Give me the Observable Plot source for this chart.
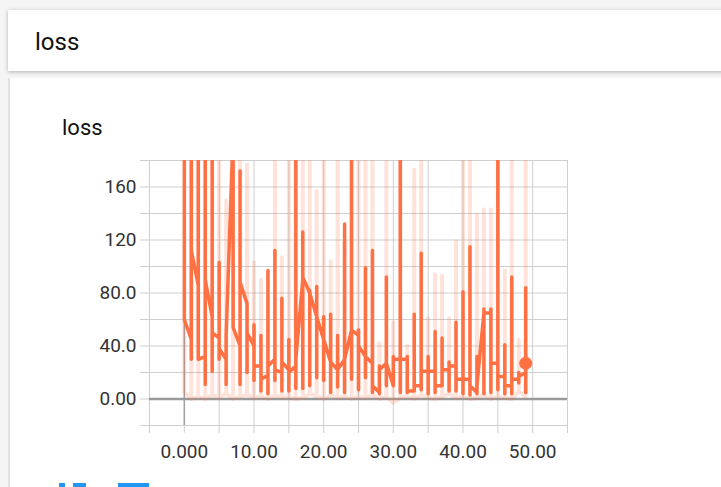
<!DOCTYPE html>
<html>
<head>
<meta charset="utf-8">
<script src="https://cdn.jsdelivr.net/npm/d3@7"></script>
<script src="https://cdn.jsdelivr.net/npm/@observablehq/plot@0.6"></script>
<style>
  html, body { margin: 0; padding: 0; }
  body { width: 721px; height: 487px; overflow: hidden; position: relative; background: #f5f5f5; font-family: Roboto, "Noto Sans", sans-serif; }
  #hdr { position: absolute; left: 8px; top: 10px; width: 740px; height: 61px; background: #fff; box-shadow: 0 1px 4px rgba(0,0,0,0.28); }
  #hdr span { position: absolute; left: 27px; top: 20px; font-size: 24px; line-height: 24px; color: #111; }
  #panel { position: absolute; left: 8px; top: 78px; width: 740px; height: 430px; background: #fff; border-left: 2px solid #e2e2e2; }
  #ctitle { position: absolute; left: 62px; top: 117px; font-size: 22px; line-height: 22px; color: #111; }
  #chart { position: absolute; left: 0; top: 150px; }
  .blue { position: absolute; background: #2196f3; }
</style>
</head>
<body>
<div id="hdr"><span>loss</span></div>
<div id="panel"></div>
<div id="ctitle">loss</div>
<div id="chart"></div>
<div class="blue" style="left:59px;top:483px;width:6px;height:6px;"></div>
<div class="blue" style="left:73px;top:483px;width:13px;height:6px;"></div>
<div class="blue" style="left:118px;top:483px;width:31px;height:6px;"></div>
<script>
// steps (x values)
const steps = [0,1,2,3,4,5,6,7,8,9,10,11,12,13,14,15,16,17,18,19,20,21,22,23,24,25,26,27,28,29,30,31,32,33,34,35,36,37,38,39,40,41,42,43,44,45,46,47,48,49];

// smoothed series (bold line): per step entry, high, low, exit values
const smoothEntry = [60,45,86,32,62,46,30,200,40,72, 40,25,18,30,20,22,25,90,80,62, 45,28,22,30,52,48,32,27,5,27, 10,30,30,6,10,21,21,10,22,25, 15,15,5,65,65,27,17,10,15,20];
const smoothHigh  = [250,250,250,250,250,103,48,250,172,72, 56,48,97,112,76,45,250,126,82,85, 62,64,48,132,250,52,99,112,25,92, 32,250,32,64,110,32,51,46,28,58, 81,115,32,68,68,250,41,92,20,84];
const smoothLow   = [60,30,30,11,21,30,11,54,11,20, 14,6,4,14,6,6,8,8,10,16, 14,5,9,5,15,7,16,5,4,10, 10,5,5,6,7,4,5,10,6,6, 4,3,4,4,5,7,4,4,12,5];
const smoothExit  = [60,112,30,90,50,38,48,54,88,50, 25,15,25,22,28,20,30,92,80,62, 45,28,22,30,52,40,32,10,22,27, 30,30,6,10,21,21,10,22,25,15, 15,10,10,65,27,17,10,15,17,27];

// raw series (faint line): per step high and low values
const rawHigh = [60,250,250,250,250,250,150,250,250,177, 103,90,78,250,107,250,250,250,250,157, 250,104,250,120,250,250,250,250,42,250, 58,250,40,173,250,61,94,93,61,119, 250,250,139,143,143,250,97,250,45,250];
const rawLow  = [5,0,2,0,3,1,4,0,2,3, 1,2,0,3,1,2,0,1,4,2, 0,3,1,2,0,2,1,3,0,2, -3,1,2,0,3,1,0,2,4,1, 2,0,1,3,0,2,1,0,6,2];

// axes ticks and labels
const xGridTicks = [-5,0,5,10,15,20,25,30,35,40,45,50,55];
const xLabelTicks = [0,10,20,30,40,50];
const xTickLabels = ["0.000","10.00","20.00","30.00","40.00","50.00"];
const yGridTicks = [-20,0,20,40,60,80,100,120,140,160,180];
const yLabelTicks = [0,40,80,120,160];
const yTickLabels = ["0.00","40.0","80.0","120","160"];

const smoothPath = steps.flatMap((s, i) => [
  {step: s, value: smoothEntry[i]},
  {step: s, value: smoothHigh[i]},
  {step: s, value: smoothLow[i]},
  {step: s, value: smoothExit[i]}
]);
const rawPath = steps.flatMap((s, i) => [
  {step: s, value: rawLow[i]},
  {step: s, value: rawHigh[i]},
  {step: s, value: rawLow[i]}
]);
const lastPoint = [{step: steps[steps.length - 1], value: smoothExit[smoothExit.length - 1]}];

const grid = "#cfcfcf";
const chart = Plot.plot({
  width: 600,
  height: 310,
  marginLeft: 149,
  marginRight: 33,
  marginTop: 10,
  marginBottom: 35,
  x: {domain: [-5, 55], label: null},
  y: {domain: [-20, 180], label: null},
  style: {fontFamily: "Roboto, 'Noto Sans', sans-serif", fontSize: "19px", background: "transparent", overflow: "visible"},
  marks: [
    Plot.gridX(xGridTicks, {stroke: grid, strokeOpacity: 1, strokeWidth: 1}),
    Plot.gridY(yGridTicks, {stroke: grid, strokeOpacity: 1, strokeWidth: 1}),
    Plot.axisX(xGridTicks, {tickSize: 8, text: null, stroke: grid, strokeOpacity: 1, label: null}),
    Plot.axisX(xLabelTicks, {tickSize: 0, tickPadding: 19, tickFormat: d => xTickLabels[xLabelTicks.indexOf(d)], fill: "#333", label: null}),
    Plot.axisY(yGridTicks, {tickSize: 9, text: null, stroke: grid, strokeOpacity: 1, label: null}),
    Plot.axisY(yLabelTicks, {tickSize: 0, tickPadding: 13, tickFormat: d => yTickLabels[yLabelTicks.indexOf(d)], fill: "#333", label: null}),
    Plot.ruleX([0], {stroke: "#a0a0a0", strokeWidth: 1.5}),
    Plot.ruleY([0], {stroke: "#9a9a9a", strokeWidth: 2.5}),
    Plot.line(rawPath, {x: "step", y: "value", stroke: "#ff7043", strokeOpacity: 0.2, strokeWidth: 4, clip: true}),
    Plot.line(smoothPath, {x: "step", y: "value", stroke: "#ff7043", strokeWidth: 3.5, clip: true}),
    Plot.dot(lastPoint, {x: "step", y: "value", r: 6.5, fill: "#ff7043", stroke: "none"})
  ]
});
document.getElementById("chart").appendChild(chart);
</script>
</body>
</html>
